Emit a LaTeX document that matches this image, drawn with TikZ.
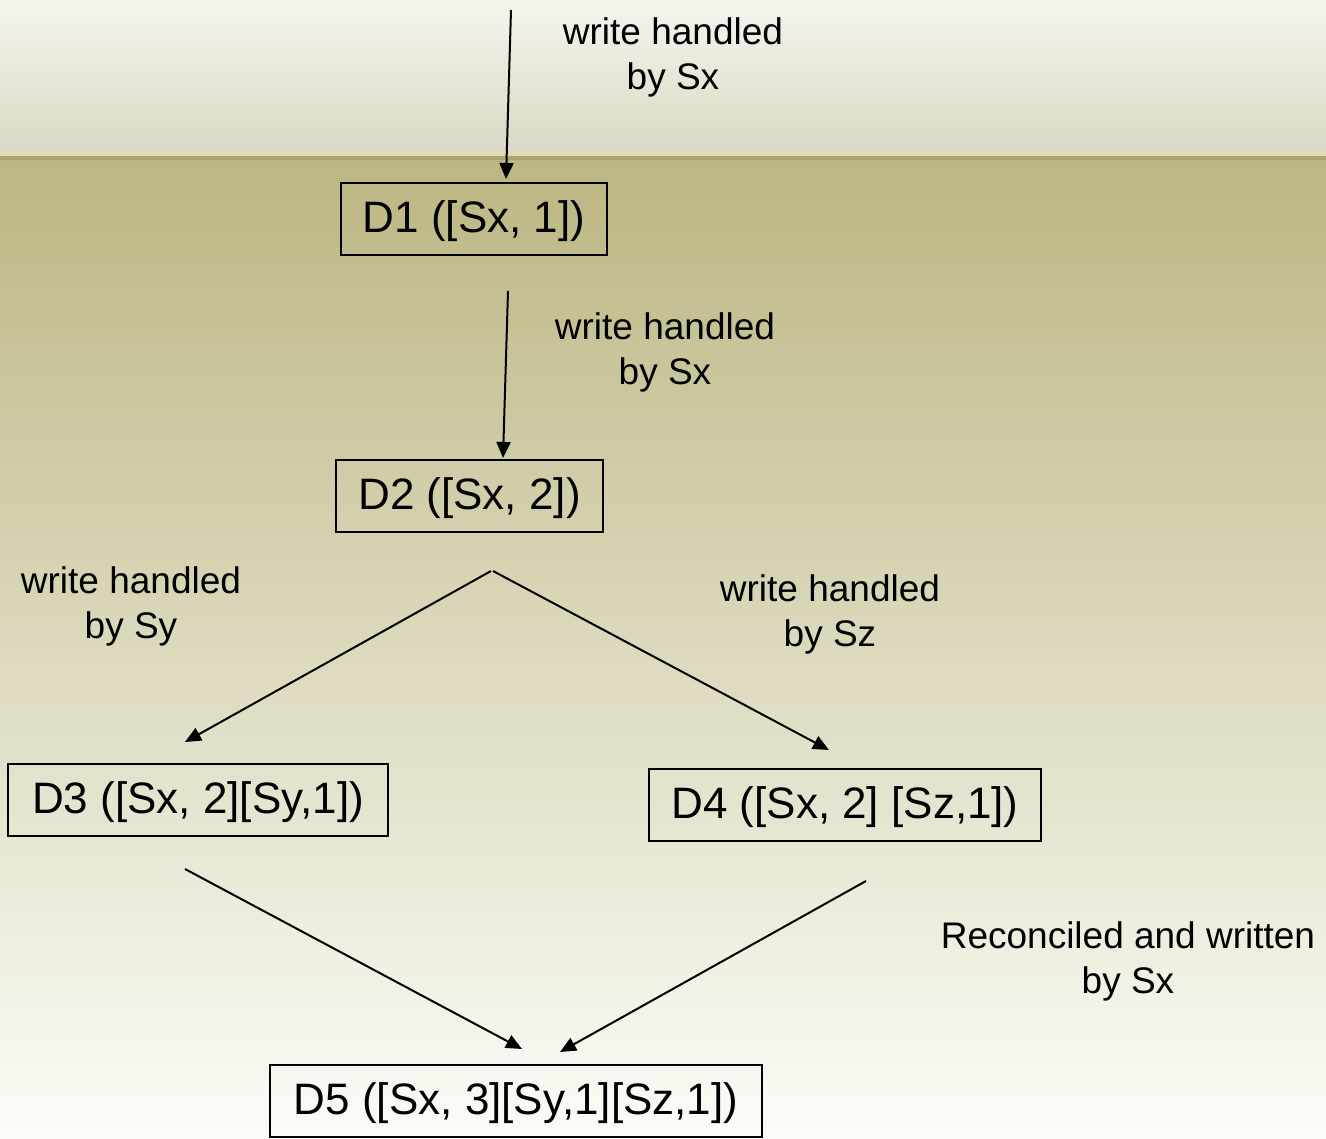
\documentclass[tikz,border=0pt]{standalone}
\usepackage{fontspec}
\setmainfont{Liberation Sans}
\usetikzlibrary{arrows.meta}
\definecolor{skytop}{HTML}{F5F5EE}
\definecolor{skybot}{HTML}{DCD8C4}
\definecolor{rimlight}{HTML}{E0DCB0}
\definecolor{rimdark}{HTML}{A9A470}
\definecolor{fieldtop}{HTML}{BCB682}
\definecolor{fieldmid}{HTML}{DEDAC0}
\definecolor{fieldbot}{HTML}{FCFCF8}
\tikzset{
  vbox/.style={draw=black, line width=2pt, minimum height=72pt, inner xsep=0pt,
    font=\fontsize{44}{50}\selectfont, text depth=4pt},
  note/.style={align=center, font=\fontsize{37}{45}\selectfont, inner sep=0pt},
  link/.style={line width=2pt, -{Triangle[length=16pt,width=14pt]}}
}
\begin{document}
\begin{tikzpicture}[x=1pt,y=-1pt]
  % background: pale sky band, rim, and graded field
  \useasboundingbox (0,0) rectangle (1326,1139);
  \shade[top color=skytop, bottom color=skybot] (0,0) rectangle (1326,152);
  \fill[rimlight] (0,152) rectangle (1326,156);
  \fill[rimdark] (0,156) rectangle (1326,161);
  \shade[top color=fieldtop, middle color=fieldmid, bottom color=fieldbot] (0,161) rectangle (1326,1139);

  % versions
  \node[vbox, minimum width=266pt] (d1) at (474,219) {D1 ([Sx, 1])};
  \node[vbox, minimum width=267pt] (d2) at (469.5,496) {D2 ([Sx, 2])};
  \node[vbox, minimum width=380pt] (d3) at (198,799.5) {D3 ([Sx, 2][Sy,1])};
  \node[vbox, minimum width=392pt] (d4) at (845,804.5) {D4 ([Sx, 2] [Sz,1])};
  \node[vbox, minimum width=492pt] (d5) at (516,1101) {D5 ([Sx, 3][Sy,1][Sz,1])};

  % connector end points
  \coordinate (a1s) at (511,10);   \coordinate (a1e) at (506,179);
  \coordinate (a2s) at (508,291);  \coordinate (a2e) at (503,458);
  \coordinate (a3s) at (491,571);  \coordinate (a3e) at (185,742);
  \coordinate (a4s) at (493,571);  \coordinate (a4e) at (829,750);
  \coordinate (a5s) at (185,869);  \coordinate (a5e) at (522,1049);
  \coordinate (a6s) at (866,881);  \coordinate (a6e) at (560,1052);

  \draw[link] (a1s) -- (a1e);
  \draw[link] (a2s) -- (a2e);
  \draw[link] (a3s) -- (a3e);
  \draw[link] (a4s) -- (a4e);
  \draw[link] (a5s) -- (a5e);
  \draw[link] (a6s) -- (a6e);

  % labels
  \node[note] (l1) at (673,57) {write handled\\by Sx};
  \node[note] (l2) at (665,352) {write handled\\by Sx};
  \node[note] (l3) at (131,606) {write handled\\by Sy};
  \node[note] (l4) at (830,614) {write handled\\by Sz};
  \node[note] (l5) at (1128,961) {Reconciled and written\\by Sx};
\end{tikzpicture}
\end{document}
